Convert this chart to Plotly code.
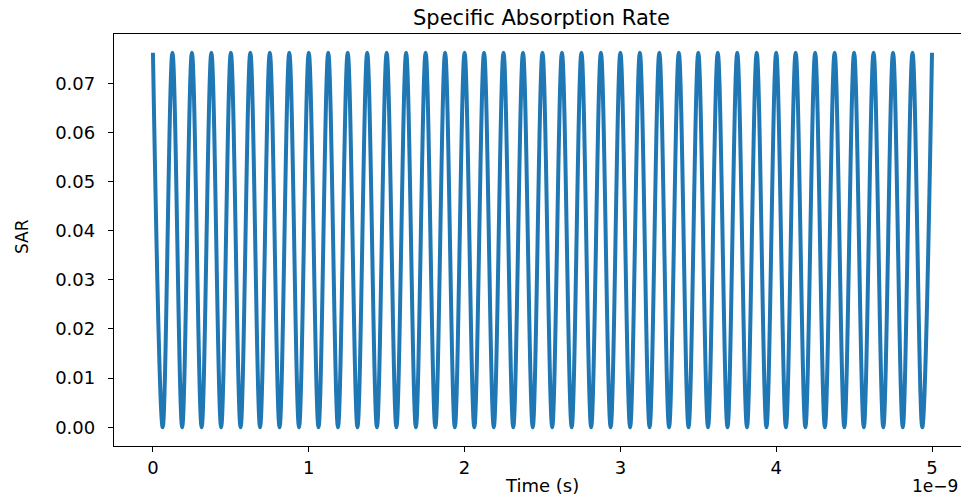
import plotly.graph_objects as go

# Times (ns) of the maxima and minima
peak_times_ns = [0.0, 0.125, 0.25, 0.375, 0.5, 0.625, 0.75, 0.875, 1.0, 1.125,
                 1.25, 1.375, 1.5, 1.625, 1.75, 1.875, 2.0, 2.125, 2.25, 2.375,
                 2.5, 2.625, 2.75, 2.875, 3.0, 3.125, 3.25, 3.375, 3.5, 3.625,
                 3.75, 3.875, 4.0, 4.125, 4.25, 4.375, 4.5, 4.625, 4.75, 4.875, 5.0]
trough_times_ns = [0.0625, 0.1875, 0.3125, 0.4375, 0.5625, 0.6875, 0.8125, 0.9375,
                   1.0625, 1.1875, 1.3125, 1.4375, 1.5625, 1.6875, 1.8125, 1.9375,
                   2.0625, 2.1875, 2.3125, 2.4375, 2.5625, 2.6875, 2.8125, 2.9375,
                   3.0625, 3.1875, 3.3125, 3.4375, 3.5625, 3.6875, 3.8125, 3.9375,
                   4.0625, 4.1875, 4.3125, 4.4375, 4.5625, 4.6875, 4.8125, 4.9375]
peak_sar = 0.0762
trough_sar = 0.0

x_tick_vals = [0, 1e-9, 2e-9, 3e-9, 4e-9, 5e-9]
x_tick_text = ["0", "1", "2", "3", "4", "5"]
y_tick_vals = [0.0, 0.01, 0.02, 0.03, 0.04, 0.05, 0.06, 0.07]
y_tick_text = ["0.00", "0.01", "0.02", "0.03", "0.04", "0.05", "0.06", "0.07"]

pts = [(t * 1e-9, peak_sar) for t in peak_times_ns] + [(t * 1e-9, trough_sar) for t in trough_times_ns]
pts.sort()
xs = [p[0] for p in pts]
ys = [p[1] for p in pts]

FONT = "DejaVu Sans"

fig = go.Figure()
fig.add_trace(go.Scatter(x=xs, y=ys, mode="lines",
                         line=dict(color="#1f77b4", width=4, shape="spline", smoothing=1.0),
                         showlegend=False, hoverinfo="skip"))

axis_common = dict(showgrid=False, zeroline=False, showline=True, linecolor="black", linewidth=1.3,
                   mirror=True, ticks="outside", ticklen=5, tickwidth=1.3, tickcolor="black",
                   tickfont=dict(family=FONT, size=18, color="black"), automargin=False)

fig.update_layout(
    width=961, height=487,
    margin=dict(l=106, r=0, t=26, b=49, autoexpand=False),
    paper_bgcolor="white", plot_bgcolor="white",
    font=dict(family=FONT, size=18, color="black"),
    xaxis=dict(range=[-0.25e-9, 5.2375e-9], tickvals=x_tick_vals, ticktext=x_tick_text, **axis_common),
    yaxis=dict(range=[-0.00381, 0.08001], tickvals=y_tick_vals, ticktext=y_tick_text,
               ticklabelstandoff=9, **axis_common),
)

def ann(text, x, y, size, angle=0):
    fig.add_annotation(text=text, xref="paper", yref="paper", x=x, y=y, xanchor="center",
                       yanchor="middle", showarrow=False, textangle=angle,
                       font=dict(family=FONT, size=size, color="black"))

ann("Specific Absorption Rate", (541 - 114) / 855, (446 - 18) / 412, 21)
ann("Time (s)", (542 - 114) / 855, (446 - 485) / 412, 18)
ann("1e\u22129", (935 - 114) / 855, (446 - 486) / 412, 17)
ann("SAR", (22 - 114) / 855, (446 - 237) / 412, 17, -90)

fig.write_html("out.html")
